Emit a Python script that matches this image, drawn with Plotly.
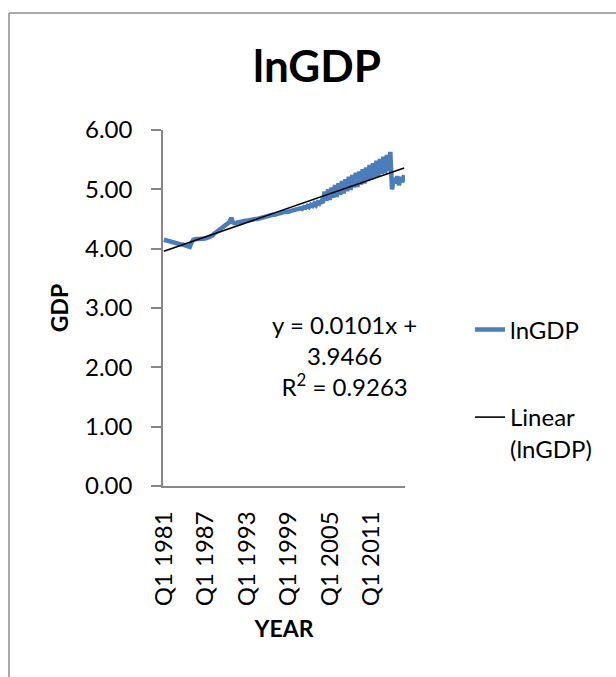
import plotly.graph_objects as go

# ---- data ----
years = list(range(1981, 2016))
categories = [f"Q{q} {y}" for y in years for q in (1, 2, 3, 4)]

lngdp = [
    4.15, 4.14, 4.14, 4.13,   # 1981
    4.13, 4.12, 4.11, 4.10,   # 1982
    4.09, 4.08, 4.07, 4.07,   # 1983
    4.06, 4.05, 4.04, 4.03,   # 1984
    4.10, 4.15, 4.16, 4.16,   # 1985
    4.16, 4.17, 4.16, 4.17,   # 1986
    4.17, 4.18, 4.19, 4.20,   # 1987
    4.22, 4.25, 4.27, 4.29,   # 1988
    4.31, 4.33, 4.35, 4.37,   # 1989
    4.39, 4.41, 4.45, 4.52,   # 1990
    4.44, 4.43, 4.44, 4.45,   # 1991
    4.45, 4.46, 4.46, 4.47,   # 1992
    4.47, 4.48, 4.48, 4.49,   # 1993
    4.49, 4.50, 4.50, 4.51,   # 1994
    4.51, 4.52, 4.53, 4.54,   # 1995
    4.54, 4.55, 4.56, 4.57,   # 1996
    4.57, 4.58, 4.59, 4.60,   # 1997
    4.60, 4.61, 4.62, 4.62,   # 1998
    4.62, 4.63, 4.64, 4.65,   # 1999
    4.65, 4.66, 4.67, 4.68,   # 2000
    4.67, 4.70, 4.69, 4.72,   # 2001
    4.70, 4.74, 4.72, 4.76,   # 2002
    4.73, 4.78, 4.76, 4.80,   # 2003
    4.77, 4.96, 4.81, 5.00,   # 2004
    4.82, 5.03, 4.86, 5.07,   # 2005
    4.87, 5.10, 4.91, 5.14,   # 2006
    4.93, 5.17, 4.97, 5.21,   # 2007
    4.99, 5.24, 5.03, 5.28,   # 2008
    5.04, 5.30, 5.08, 5.34,   # 2009
    5.10, 5.37, 5.14, 5.41,   # 2010
    5.16, 5.44, 5.20, 5.48,   # 2011
    5.22, 5.51, 5.26, 5.55,   # 2012
    5.27, 5.58, 5.31, 5.63,   # 2013
    5.00, 5.19, 5.10, 5.22,   # 2014
    5.07, 5.21, 5.12, 5.24,   # 2015
]

trend_slope = 0.0101
trend_intercept = 3.9466
trend_r2 = 0.9263

tick_labels = ["Q1 1981", "Q1 1987", "Q1 1993", "Q1 1999", "Q1 2005", "Q1 2011"]
y_ticks = [0, 1, 2, 3, 4, 5, 6]

trend = [trend_slope * (i + 1) + trend_intercept for i in range(len(categories))]

# ---- figure ----
W, H = 616, 677
L, R, T, B = 163, 211, 130, 191
pw, ph = W - L - R, H - T - B

def px(xp):
    return (xp - L) / pw

def py(yp):
    return (H - B - yp) / ph

fig = go.Figure()
fig.add_trace(go.Scatter(
    x=categories, y=lngdp, mode="lines", name="lnGDP",
    line=dict(color="#4A7EBB", width=4.5), legend="legend",
))
fig.add_trace(go.Scatter(
    x=categories, y=trend, mode="lines", name="Linear<br>(lnGDP)",
    line=dict(color="#000000", width=1.6), legend="legend2",
))

axis_color = "#868686"
fig.update_layout(
    width=W, height=H,
    margin=dict(l=L, r=R, t=T, b=B, pad=0),
    paper_bgcolor="white", plot_bgcolor="white",
    font=dict(family="Lato", size=24, color="#000000"),
    title=dict(text="<b>lnGDP</b>", font=dict(size=44, family="Lato"),
               x=317 / W, xanchor="center", xref="container",
               y=1 - 67 / H, yanchor="middle", yref="container"),
    xaxis=dict(
        type="category", range=[-0.5, len(categories) - 0.5],
        tickmode="array", tickvals=tick_labels, ticktext=tick_labels,
        tickangle=-90, ticks="", showgrid=False, zeroline=False,
        showline=True, linecolor=axis_color, linewidth=1.5,
        ticklabelstandoff=14,
        title=dict(text="<b>YEAR</b>", font=dict(size=23), standoff=16),
    ),
    yaxis=dict(
        range=[0, 6], tickvals=y_ticks, tickformat=".2f",
        ticks="outside", ticklen=10, tickcolor=axis_color, tickwidth=1.5,
        showgrid=False, zeroline=False,
        showline=True, linecolor=axis_color, linewidth=1.5,
        ticklabelstandoff=14,
        title=dict(text="<b>GDP</b>", font=dict(size=23), standoff=10),
    ),
    legend=dict(x=px(470), y=py(330), xanchor="left", yanchor="middle",
                bgcolor="rgba(0,0,0,0)", font=dict(size=24)),
    legend2=dict(x=px(470), y=py(433), xanchor="left", yanchor="middle",
                 bgcolor="rgba(0,0,0,0)", font=dict(size=24), valign="top"),
    showlegend=True,
)

# trendline equation label
fig.add_annotation(
    x=px(344), y=py(355), xref="paper", yref="paper",
    text=f"y = {trend_slope}x +<br>{trend_intercept}<br>R<sup>2</sup> = {trend_r2}",
    showarrow=False, align="center", xanchor="center", yanchor="middle",
    font=dict(size=24),
)

# chart frame (left and top edges visible)
frame = "#8C8C8C"
fig.add_shape(type="line", xref="paper", yref="paper",
              x0=px(9), x1=px(9), y0=py(13), y1=py(H + 5),
              line=dict(color=frame, width=1.5))
fig.add_shape(type="line", xref="paper", yref="paper",
              x0=px(9), x1=px(W + 5), y0=py(13), y1=py(13),
              line=dict(color=frame, width=1.5))

fig.write_html("out.html")
